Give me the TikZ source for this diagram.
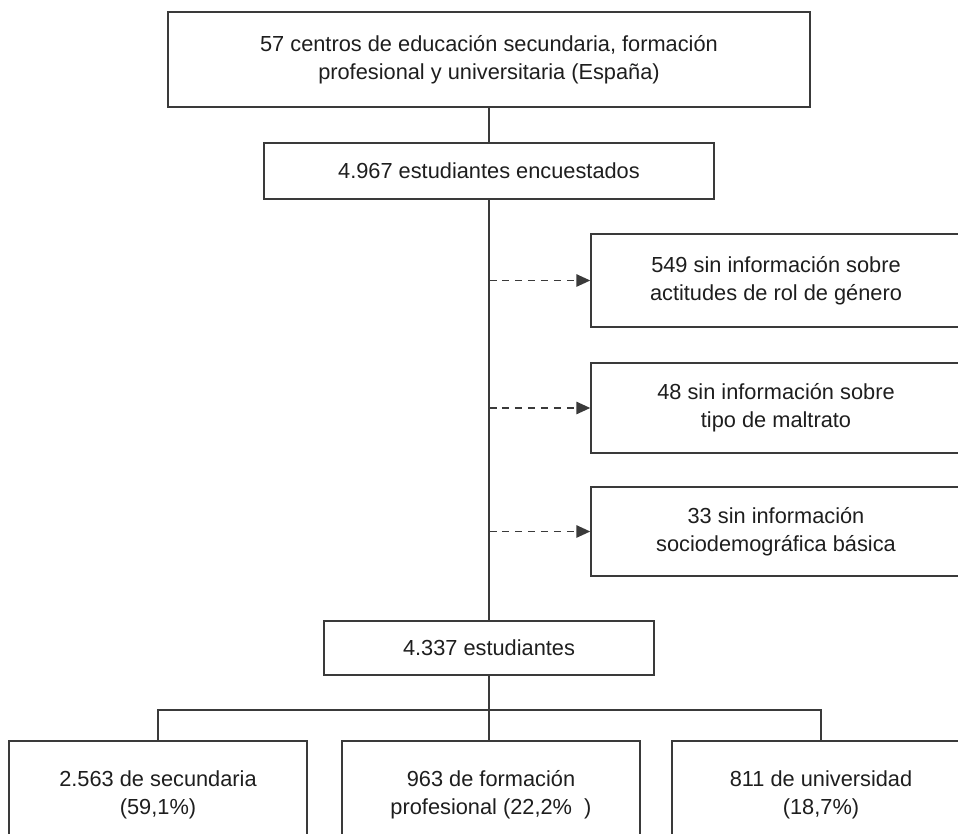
\documentclass[tikz,border=0pt]{standalone}
\usepackage{fontspec}
\setmainfont{Liberation Sans}
\usetikzlibrary{arrows.meta}
\definecolor{linegray}{HTML}{3A3A3A}
\definecolor{textgray}{HTML}{1E1E1E}

\begin{document}
\begin{tikzpicture}[x=0.02cm, y=-0.02cm,
		caja/.style={draw=linegray, line width=0.9pt, rectangle, align=center, text=textgray, font=\fontsize{12.4}{16}\selectfont, inner sep=0pt},
		linea/.style={draw=linegray, line width=0.9pt},
		excluido/.style={linea, dash pattern=on 0.15cm off 0.11cm, -{Triangle[length=0.28cm, width=0.25cm]}}]
				\useasboundingbox (0,0) rectangle (958,834);
				\clip (0,0) rectangle (958,834);
				\node[caja, minimum width=12.84cm, minimum height=1.9cm] (centros) at (489, 59.5) {57 centros de educación secundaria, formación\\profesional y universitaria (España)};
				\node[caja, minimum width=9cm, minimum height=1.12cm] (encuestados) at (489, 171) {4.967 estudiantes encuestados};
				\node[caja, minimum width=7.4cm, minimum height=1.86cm] (sinrol) at (776, 280.5) {549 sin información sobre\\actitudes de rol de género};
				\node[caja, minimum width=7.4cm, minimum height=1.8cm] (sinmaltrato) at (776, 408) {48 sin información sobre\\tipo de maltrato};
				\node[caja, minimum width=7.4cm, minimum height=1.78cm] (sinsocio) at (776, 531.5) {33 sin información\\sociodemográfica básica};
				\node[caja, minimum width=6.6cm, minimum height=1.08cm] (estudiantes) at (489, 648) {4.337 estudiantes};
				\node[caja, minimum width=5.96cm, minimum height=2.16cm] (secundaria) at (158, 795) {2.563 de secundaria\\(59,1\%)};
				\node[caja, minimum width=5.96cm, minimum height=2.16cm] (fp) at (491, 795) {963 de formación\\profesional (22,2\% \ )};
				\node[caja, minimum width=5.96cm, minimum height=2.16cm] (universidad) at (821, 795) {811 de universidad\\(18,7\%)};
				\coordinate (reparto) at (489, 710);
				\draw[linea] (centros) -- (encuestados);
				\draw[linea] (encuestados) -- (estudiantes);
				\draw[linea] (estudiantes) -- (reparto);
				\draw[linea] (secundaria.north) |- (reparto) -| (universidad.north);
				\draw[linea] (reparto) -- (fp.north -| reparto);
				\draw[excluido] (encuestados.south |- sinrol.west) -- (sinrol.west);
				\draw[excluido] (encuestados.south |- sinmaltrato.west) -- (sinmaltrato.west);
				\draw[excluido] (encuestados.south |- sinsocio.west) -- (sinsocio.west);
\end{tikzpicture}
\end{document}
